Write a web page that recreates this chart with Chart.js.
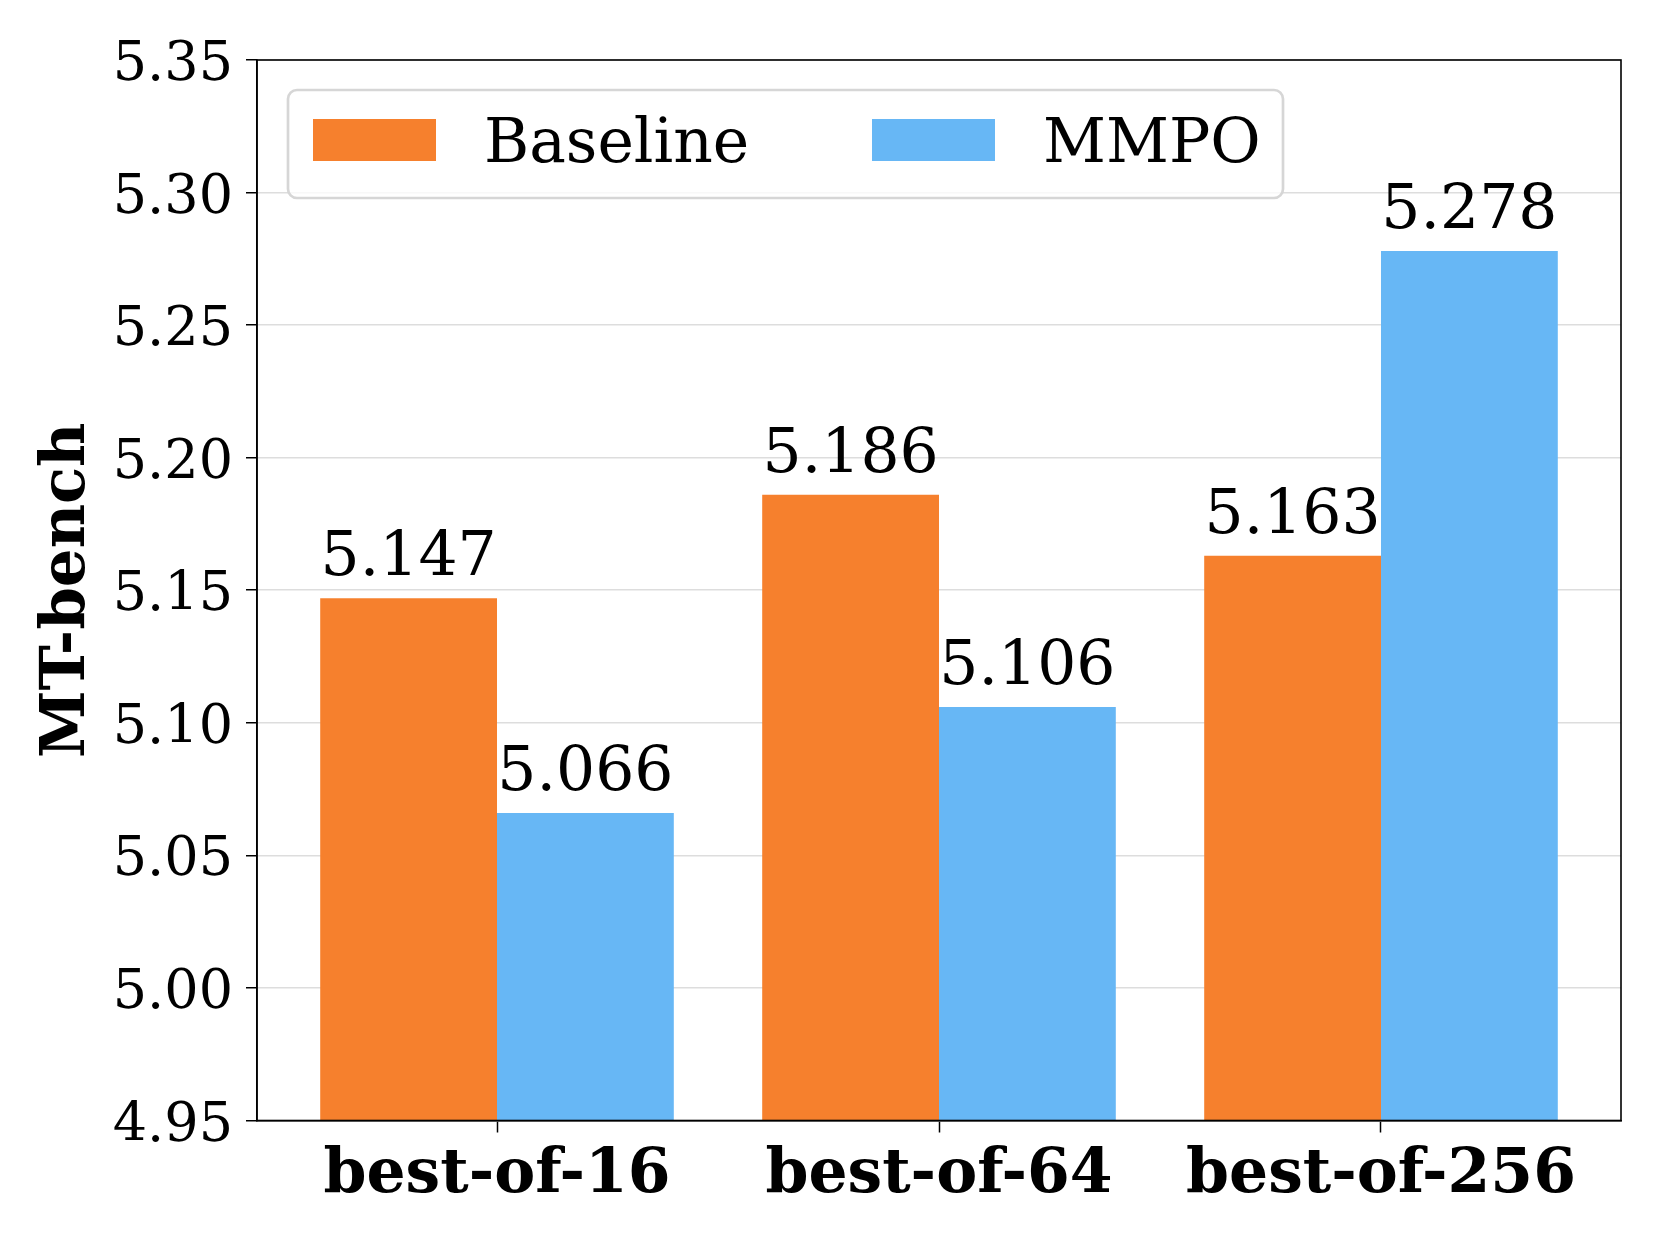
<!DOCTYPE html>
<html>
<head>
<meta charset="utf-8">
<script src="https://cdn.jsdelivr.net/npm/chart.js@4.4.1/dist/chart.umd.min.js"></script>
<style>
  html, body { margin: 0; padding: 0; background: #ffffff; }
  #wrap { width: 1660px; height: 1245px; position: relative; }
</style>
</head>
<body>
<div id="wrap"><canvas id="c" width="1660" height="1245"></canvas></div>
<script>
// ---- data ----
const categories = ["best-of-16", "best-of-64", "best-of-256"];
const baselineValues = [5.147, 5.186, 5.163];
const mmpoValues = [5.066, 5.106, 5.278];
const seriesNames = ["Baseline", "MMPO"];
const yTicks = [4.95, 5.00, 5.05, 5.10, 5.15, 5.20, 5.25, 5.30, 5.35];

const ORANGE = "#F6802D";
const BLUE = "#67B7F5";
const SERIF = "'DejaVu Serif', serif";

const framePlugin = {
  id: "frame",
  afterDatasetsDraw(chart) {
    const {ctx, chartArea: a} = chart;
    ctx.save();
    ctx.strokeStyle = "#000";
    ctx.lineWidth = 1.6;
    ctx.strokeRect(a.left, a.top, a.right - a.left, a.bottom - a.top);
    ctx.restore();
  }
};

const valueLabelPlugin = {
  id: "valueLabels",
  afterDatasetsDraw(chart) {
    const {ctx} = chart;
    ctx.save();
    ctx.font = "61.5px " + SERIF;
    ctx.fillStyle = "#000";
    ctx.textAlign = "center";
    ctx.textBaseline = "alphabetic";
    chart.data.datasets.forEach((ds, di) => {
      const meta = chart.getDatasetMeta(di);
      meta.data.forEach((el, i) => {
        ctx.fillText(ds.data[i].y.toFixed(3), el.x, el.y - 23);
      });
    });
    ctx.restore();
  }
};

const legendPlugin = {
  id: "boxLegend",
  afterDraw(chart) {
    const {ctx, chartArea: a} = chart;
    const left = a.left + 31, top = a.top + 30, w = 995, h = 108, r = 9;
    ctx.save();
    ctx.beginPath();
    ctx.roundRect(left, top, w, h, r);
    ctx.fillStyle = "rgba(255,255,255,0.8)";
    ctx.fill();
    ctx.lineWidth = 2.7;
    ctx.strokeStyle = "#d6d6d6";
    ctx.stroke();
    ctx.font = "61.5px " + SERIF;
    ctx.textBaseline = "alphabetic";
    ctx.textAlign = "left";
    const offsets = [0, 559];
    chart.data.datasets.forEach((ds, di) => {
      const sx = left + 25 + offsets[di];
      ctx.fillStyle = ds.backgroundColor;
      ctx.fillRect(sx, top + 29, 123, 42);
      ctx.fillStyle = "#000";
      ctx.fillText(ds.label, sx + 171, top + 71.5);
    });
    ctx.restore();
  }
};

const chart = new Chart(document.getElementById("c"), {
  type: "bar",
  data: {
    datasets: [
      {
        label: seriesNames[0],
        data: baselineValues.map((v, i) => ({x: i, y: v})),
        backgroundColor: ORANGE,
        borderWidth: 0,
        categoryPercentage: 0.8,
        barPercentage: 1.0
      },
      {
        label: seriesNames[1],
        data: mmpoValues.map((v, i) => ({x: i, y: v})),
        backgroundColor: BLUE,
        borderWidth: 0,
        categoryPercentage: 0.8,
        barPercentage: 1.0
      }
    ]
  },
  options: {
    responsive: false,
    animation: false,
    devicePixelRatio: 1,
    layout: { padding: { top: 60, right: 39, left: 0, bottom: 0 } },
    plugins: {
      legend: { display: false },
      tooltip: { enabled: false }
    },
    scales: {
      x: {
        type: "linear",
        min: -0.543,
        max: 2.543,
        offset: false,
        grid: {
          offset: false,
          drawOnChartArea: false,
          drawTicks: true,
          tickLength: 12,
          tickColor: "#000",
          tickWidth: 1.5
        },
        border: { display: true, color: "#000", width: 1.6 },
        afterBuildTicks(scale) {
          scale.ticks = categories.map((c, i) => ({value: i}));
        },
        afterFit(scale) { scale.height = 124.5; },
        ticks: {
          autoSkip: false,
          maxRotation: 0,
          minRotation: 0,
          padding: 13,
          color: "#000",
          font: { family: SERIF, size: 61.5, weight: "bold", lineHeight: 1 },
          callback: (v) => categories[v]
        }
      },
      y: {
        type: "linear",
        min: 4.95,
        max: 5.35,
        grid: {
          color: "#dddddd",
          lineWidth: 1.5,
          drawTicks: true,
          tickLength: 11,
          tickColor: "#000",
          tickWidth: 1.5
        },
        border: { display: true, color: "#000", width: 1.6 },
        afterBuildTicks(scale) {
          scale.ticks = yTicks.map(v => ({value: v}));
        },
        afterFit(scale) { scale.width = 257; },
        title: {
          display: true,
          text: "MT-bench",
          color: "#000",
          font: { family: SERIF, size: 61, weight: "bold", lineHeight: 1 },
          padding: { top: 38, bottom: 0 }
        },
        ticks: {
          padding: 13,
          color: "#000",
          font: { family: SERIF, size: 54, lineHeight: "12px" },
          callback: (v) => ["", Number(v).toFixed(2)]
        }
      }
    }
  },
  plugins: [framePlugin, valueLabelPlugin, legendPlugin]
});
</script>
</body>
</html>
